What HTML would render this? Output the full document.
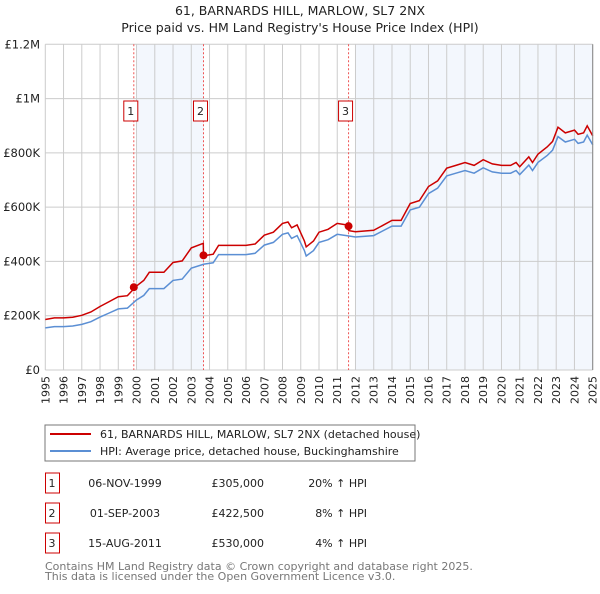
<!DOCTYPE html>
<html><head><meta charset="utf-8"><style>
body{margin:0;background:#fff;font-family:"DejaVu Sans","Liberation Sans",sans-serif;}
svg text{font-family:"DejaVu Sans","Liberation Sans",sans-serif;}
</style></head><body>
<svg id="c" width="600" height="590" xmlns="http://www.w3.org/2000/svg">
<text x="300" y="15" text-anchor="middle" font-size="12.5" fill="#222">61, BARNARDS HILL, MARLOW, SL7 2NX</text>
<text x="300" y="32" text-anchor="middle" font-size="12.5" fill="#222">Price paid vs. HM Land Registry's House Price Index (HPI)</text>
<g id="plot"></g>
<rect x="45" y="425" width="370" height="36" fill="#fff" stroke="#777"/>
<line x1="50" y1="434" x2="91" y2="434" stroke="#cc0000" stroke-width="2"/>
<text x="100" y="438" font-size="11" fill="#222">61, BARNARDS HILL, MARLOW, SL7 2NX (detached house)</text>
<line x1="50" y1="451" x2="91" y2="451" stroke="#5b8fd4" stroke-width="2"/>
<text x="100" y="455" font-size="11" fill="#222">HPI: Average price, detached house, Buckinghamshire</text>
<g id="table" font-size="11" fill="#222"></g>
<text x="45" y="570" font-size="11" fill="#777">Contains HM Land Registry data © Crown copyright and database right 2025.</text>
<text x="45" y="580" font-size="11" fill="#777">This data is licensed under the Open Government Licence v3.0.</text>
</svg>
<script>
const hpiYears=[1995,1995.5,1996,1996.5,1997,1997.5,1998,1998.5,1999,1999.5,2000,2000.4,2000.7,2001.5,2002,2002.5,2003,2003.7,2004.2,2004.5,2005,2006,2006.5,2007,2007.5,2008,2008.3,2008.5,2008.8,2009.2,2009.3,2009.7,2010,2010.5,2011,2011.5,2012,2013,2014,2014.5,2015,2015.5,2016,2016.5,2017,2017.5,2018,2018.5,2019,2019.5,2020,2020.5,2020.8,2021,2021.5,2021.7,2022,2022.5,2022.8,2023.1,2023.5,2024,2024.2,2024.5,2024.7,2025];
const hpiValues=[155,160,160,162,168,178,195,210,225,228,258,275,300,300,330,335,375,390,395,425,425,425,430,460,470,500,505,485,495,440,420,440,470,480,500,495,490,495,530,530,590,600,650,670,715,725,735,725,745,730,725,725,735,720,755,735,765,790,810,860,840,850,835,840,865,830];
const saleYears=[1999.85,2003.67,2011.62];
const salePrices=[305,422.5,530];
const saleRatios=[1.2,1.08,1.04];
const saleLabels=["1","2","3"];
const saleDates=["06-NOV-1999","01-SEP-2003","15-AUG-2011"];
const salePriceText=["£305,000","£422,500","£530,000"];
const saleHpiText=["20% ↑ HPI","8% ↑ HPI","4% ↑ HPI"];
const yTicks=[0,200,400,600,800,1000,1200];
const yTickLabels=["£0","£200K","£400K","£600K","£800K","£1M","£1.2M"];
const NS="http://www.w3.org/2000/svg";
const X0=45.3,X1=592.7,Y0=370,Y1=44.3;
const xs=y=>X0+(y-1995)/30*(X1-X0);
const ys=v=>Y0-v/1200*(Y0-Y1);
const g=document.getElementById('plot');
function mk(t,a,p){const e=document.createElementNS(NS,t);for(const k in a)e.setAttribute(k,a[k]);(p||g).appendChild(e);return e;}
// shading
let s=mk('rect',{x:xs(2000),y:Y1,width:xs(saleYears[1])-xs(2000),height:Y0-Y1,fill:'#eef3fc',opacity:0.7});


s=mk('rect',{x:xs(2012),y:Y1,width:X1-xs(2012),height:Y0-Y1,fill:'#eef3fc',opacity:0.7});


// grid
for(let yr=1995;yr<=2025;yr++){
  const l=mk('line',{x1:xs(yr),x2:xs(yr),y1:Y1,y2:Y0,stroke:'#ccc','stroke-width':1});
  
  
  const t=mk('text',{x:0,y:0,'font-size':11,fill:'#222','text-anchor':'end',transform:`translate(${xs(yr)+4},${Y0+6}) rotate(-90)`});
  t.textContent=yr;
  
  
}
yTicks.forEach((v,i)=>{
  const l=mk('line',{x1:X0,x2:X1,y1:ys(v),y2:ys(v),stroke:'#ccc','stroke-width':1});
  
  
  const t=mk('text',{x:40,y:ys(v)+4,'font-size':11.5,fill:'#222','text-anchor':'end'});
  t.textContent=yTickLabels[i];
  
  
});
// sale lines
saleYears.forEach((yr,i)=>{
  const l=mk('line',{x1:xs(yr),x2:xs(yr),y1:Y1,y2:Y0,stroke:'#e55','stroke-width':1,'stroke-dasharray':'2,2'});
  
  
});
// series
const hp=hpiYears.map((y,i)=>(i?'L':'M')+xs(y).toFixed(1)+','+ys(hpiValues[i]).toFixed(1)).join('');
let p=mk('path',{d:hp,fill:'none',stroke:'#5b8fd4','stroke-width':1.5});


function ratioAt(y){return y<saleYears[1]?saleRatios[0]:(y<saleYears[2]?saleRatios[1]:saleRatios[2]);}
function hpiAt(y){for(let i=1;i<hpiYears.length;i++){if(y<=hpiYears[i]){const t=(y-hpiYears[i-1])/(hpiYears[i]-hpiYears[i-1]);return hpiValues[i-1]+t*(hpiValues[i]-hpiValues[i-1]);}}return hpiValues[hpiValues.length-1];}
const redYears=[...hpiYears,...saleYears,saleYears[1]-0.01,saleYears[2]-0.01].sort((a,b)=>a-b);
const rp=redYears.map((y,i)=>(i?'L':'M')+xs(y).toFixed(1)+','+ys(hpiAt(y)*ratioAt(y)).toFixed(1)).join('');
p=mk('path',{d:rp,fill:'none',stroke:'#cc0000','stroke-width':1.5});


saleYears.forEach((yr,i)=>{
  const c=mk('circle',{cx:xs(yr),cy:ys(salePrices[i]),r:4,fill:'#cc0000'});
  
  
  const r=mk('rect',{x:xs(yr)-10,y:101,width:14,height:20,fill:'#fff',stroke:'#cc0000'});
  
  
  const t=mk('text',{x:xs(yr)-3,y:115,'font-size':11,fill:'#222','text-anchor':'middle'});
  t.textContent=saleLabels[i];
  
  
});
const ax=mk('line',{x1:X1,x2:X1,y1:Y1,y2:Y0,stroke:'#888','stroke-width':1});


// table
const tg=document.getElementById('table');
saleYears.forEach((yr,i)=>{
  const cy=483+i*30;
  const r=mk('rect',{x:45.5,y:cy-10,width:14,height:20,fill:'none',stroke:'#cc0000'},tg);
  
  
  const cells=[[52,saleLabels[i],'middle','table-number'],[125,saleDates[i],'middle','table-date'],[264,salePriceText[i],'end','table-price'],[367,saleHpiText[i],'end','table-hpi']];
  cells.forEach(c=>{const t=mk('text',{x:c[0],y:cy+4,'text-anchor':c[2]},tg);t.textContent=c[1];
    
    });
});
</script>
</body></html>
